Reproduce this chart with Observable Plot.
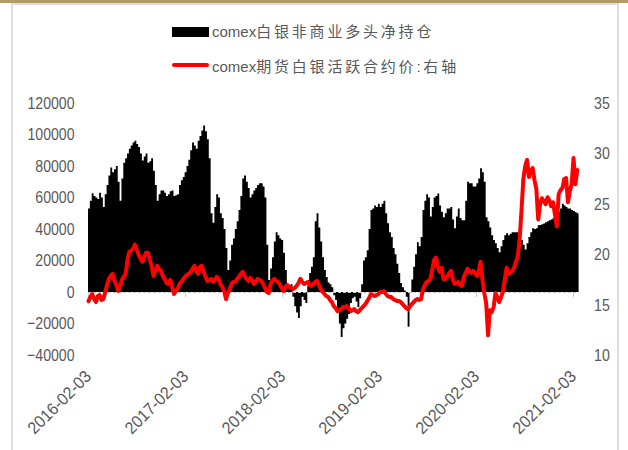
<!DOCTYPE html>
<html><head><meta charset="utf-8">
<script src="https://cdn.jsdelivr.net/npm/d3@7"></script>
<script src="https://cdn.jsdelivr.net/npm/@observablehq/plot@0.6"></script>
<style>
html,body{margin:0;padding:0;background:#fff;}
#wrap{position:relative;width:628px;height:450px;overflow:hidden;background:#fff;}
#topbar{position:absolute;left:0;top:0;width:628px;height:3px;background:#b39b68;}
#frame{position:absolute;left:11px;top:3px;width:604px;height:460px;border:2px solid #dedede;border-bottom:none;}
#legend{position:absolute;left:0;top:0;width:628px;height:85px;font-family:"Liberation Sans","Noto Sans CJK SC",sans-serif;font-size:15px;color:#595959;}
.sw{position:absolute;left:172px;width:37px;}
.lt{position:absolute;left:212px;white-space:nowrap;line-height:18px;}
.cjk{letter-spacing:2.8px;}
#chart{position:absolute;left:0;top:85px;}
</style></head>
<body>
<div id="wrap">
  <div id="topbar"></div>
  <div id="frame"></div>
  <div id="legend">
    <div class="sw" style="top:27px;height:10px;background:#000;"></div>
    <div class="lt" style="top:23px;">comex<span class="cjk">白银非商业多头净持仓</span></div>
    <div class="sw" style="top:63px;height:4px;background:#ff0000;border-radius:2px;"></div>
    <div class="lt" style="top:58px;">comex<span class="cjk">期货白银活跃合约价:右轴</span></div>
  </div>
  <div id="chart"></div>
</div>
<script>
// Weekly series starting 2016-02-03
const startDate = "2016-02-03";
const endDate = "2021-02-24";
const xTickLabels = ["2016-02-03","2017-02-03","2018-02-03","2019-02-03","2020-02-03","2021-02-03"];
const leftTicks = [-40000,-20000,0,20000,40000,60000,80000,100000,120000];
const rightTicks = [10,15,20,25,30,35];

// comex silver non-commercial net long (contracts), weekly
const netLong = [
53000,58000,62700,61000,60000,59000,63000,60000,54000,62000,
68000,74000,79000,76000,78000,80000,70000,58000,72000,82000,
85000,88000,91000,93000,95000,96000,94000,92000,88000,83500,
86000,88000,82000,83000,85000,77000,68000,58000,62000,64500,
64500,63000,61000,62000,64000,64500,61000,61500,62000,68000,
71000,73000,76000,80000,84000,90000,95000,93000,91000,96000,
99000,102500,105700,102000,97000,85000,50000,44000,54000,62000,
60000,50000,47000,40000,28000,14000,20000,30000,34000,40000,
45000,52000,61000,72000,74000,70000,66000,60000,62000,64500,
66000,68000,69000,69000,67000,60000,30000,7600,15000,22000,
32000,38000,36000,34000,33000,25000,14000,4000,4000,5000,
-3000,-9000,-13000,-16500,-9000,-3000,-5000,-7000,4000,12000,
16000,22000,45000,50000,41000,32000,22000,14000,9500,6000,
5000,3000,-2000,-5000,-11000,-20000,-28500,-23000,-20000,-17000,
-14000,-7000,-4000,-3000,-6000,-9500,-4000,5000,20000,22000,
26500,40000,52000,53000,55000,54000,56000,54000,56000,58000,
50000,43700,38000,35000,28000,24000,18000,12000,5700,3000,
1000,-3000,-22000,-500,8000,16000,24000,31600,29000,35000,
52000,58000,62000,60000,48000,54000,60000,61000,62600,55000,
51000,47500,50000,53000,53000,54000,46000,40500,48000,53000,
47000,45600,45600,58000,70000,69000,69000,67000,67000,69000,
72000,78500,76000,70000,47500,45000,41000,36000,33000,31000,
28000,25300,29000,33000,36000,37300,36000,37000,38000,38000,
38000,38000,36000,33000,30000,27000,31000,35000,38000,40500,
40000,40500,42400,42500,43000,43500,44300,45000,45500,46000,
46800,48500,50000,51000,53000,56000,55000,54000,53000,53000,
52000,51500,50600,50000
];

// comex silver most-active futures price (USD/oz), weekly, right axis
const silverPrice = [
15.4,15.8,16.1,15.6,15.3,15.9,16.0,15.5,15.6,16.3,
17.0,17.6,17.9,18.1,17.4,17.0,16.4,16.9,17.5,17.8,
18.1,19.5,20.3,20.4,20.6,21.0,20.5,20.0,19.6,19.3,
19.8,20.2,20.2,19.5,18.9,17.9,18.4,18.9,18.6,18.4,
17.9,17.6,17.2,17.1,17.5,16.8,16.1,16.4,16.6,17.1,
17.3,17.6,17.8,18.0,18.1,18.3,18.6,18.9,18.4,18.1,
18.8,18.9,18.3,17.8,17.4,17.5,17.6,17.3,17.5,17.8,
17.6,17.1,16.8,16.4,15.6,16.2,16.6,17.1,17.3,17.3,
17.6,17.8,18.1,18.3,17.9,17.6,17.4,17.7,17.5,17.1,
17.3,17.6,17.5,17.4,17.1,16.7,16.3,16.2,17.1,17.4,
17.6,17.4,17.3,17.0,16.7,16.4,16.8,17.0,16.8,16.7,
16.6,16.7,16.9,17.2,17.6,17.3,17.1,17.2,17.3,17.0,
16.9,17.1,17.3,17.4,17.0,16.6,16.3,16.1,15.9,15.8,
15.5,15.3,14.9,14.7,14.4,14.5,14.6,14.8,14.8,14.9,
14.7,14.4,14.5,14.6,14.4,14.3,14.5,14.7,14.9,15.1,
15.4,15.7,16.1,16.0,15.9,16.0,16.1,16.3,16.3,16.4,
16.1,15.9,15.8,15.8,15.6,15.5,15.4,15.4,15.3,15.1,
14.9,14.7,14.6,14.9,15.1,15.3,15.5,15.6,15.5,15.6,
16.6,17.0,17.3,17.4,17.6,18.5,19.5,19.7,18.8,18.3,
18.7,17.6,17.6,17.8,18.1,18.4,17.6,17.1,17.2,17.3,
17.0,16.9,17.8,18.2,18.6,18.4,18.2,18.4,18.2,17.9,
18.4,19.3,17.5,16.2,15.2,12.0,14.5,14.3,14.8,16.2,
15.8,15.3,15.8,16.3,17.5,18.7,18.1,18.2,18.4,18.7,
19.3,19.8,21.5,24.4,27.5,28.8,29.4,27.7,28.3,28.6,
27.4,26.5,23.5,25.0,25.6,25.3,25.0,25.7,25.4,24.8,
25.2,24.0,22.8,26.0,26.4,26.6,27.5,27.6,25.2,26.3,
27.0,29.6,27.0,28.4
];

const t0 = new Date(startDate + "T00:00:00Z");
const weekDates = netLong.map((_, i) => d3.utcDay.offset(t0, 7 * i));
// step area: each week holds its value until the next week; close the last week
const barSteps = netLong.map((v, i) => ({x: weekDates[i], v}));
barSteps.push({x: d3.utcDay.offset(weekDates[weekDates.length - 1], 7), v: netLong[netLong.length - 1]});
// map right axis (10..35) onto left axis (-40000..120000)
const L0 = leftTicks[0], L1 = leftTicks[leftTicks.length - 1];
const R0 = rightTicks[0], R1 = rightTicks[rightTicks.length - 1];
const toLeft = p => L0 + (p - R0) * (L1 - L0) / (R1 - R0);
const fromLeft = v => R0 + (v - L0) * (R1 - R0) / (L1 - L0);
const prices = silverPrice.map((p, i) => ({x: weekDates[i], y: toLeft(p)}));
const xTicks = xTickLabels.map(s => new Date(s + "T00:00:00Z"));

const chart = Plot.plot({
  width: 628,
  height: 365,
  marginTop: 18,
  marginBottom: 95,
  marginLeft: 88,
  marginRight: 49.4,
  style: {fontFamily: "'Liberation Sans',sans-serif", fontSize: "17px", color: "#595959", background: "transparent"},
  x: {type: "utc", domain: [t0, new Date(endDate + "T00:00:00Z")]},
  y: {domain: [L0, L1]},
  marks: [
    Plot.areaY(barSteps, {x: "x", y: "v", curve: "step-after", fill: "#000"}),
    Plot.ruleY([0], {stroke: "#c8c8c8", strokeDasharray: "3,2", strokeWidth: 1}),
    Plot.ruleX(xTicks, {y1: 0, y2: 0, insetBottom: -5, stroke: "#c8c8c8"}),
    Plot.line(prices, {x: "x", y: "y", stroke: "#ff0000", strokeWidth: 4, strokeLinejoin: "round", strokeLinecap: "round"}),
    Plot.axisY({anchor: "left", ticks: leftTicks, tickSize: 0, tickPadding: 14, tickFormat: d3.format("d"), label: null}),
    Plot.axisY({anchor: "right", ticks: rightTicks.map(toLeft), tickSize: 0, tickPadding: 15, tickFormat: v => String(Math.round(fromLeft(v))), label: null}),
    Plot.axisX({ticks: xTicks, tickFormat: d3.utcFormat("%Y-%m-%d"), tickRotate: -45, tickSize: 0, tickPadding: 18, label: null})
  ]
});
// condense the axis lettering horizontally, around each label's own anchor
chart.querySelectorAll('g[aria-label$="tick label"] text').forEach(t => {
  const isX = t.closest('g[aria-label="x-axis tick label"]') !== null;
  let tr = t.getAttribute("transform");
  if (!tr) {
    const x = +(t.getAttribute("x") || 0), y = +(t.getAttribute("y") || 0);
    t.removeAttribute("x"); t.removeAttribute("y");
    tr = `translate(${x},${y})`;
  }
  t.setAttribute("transform", tr + (isX ? " scale(0.94,1)" : " scale(0.83,1)"));
});
document.getElementById("chart").appendChild(chart);
</script>
</body></html>
